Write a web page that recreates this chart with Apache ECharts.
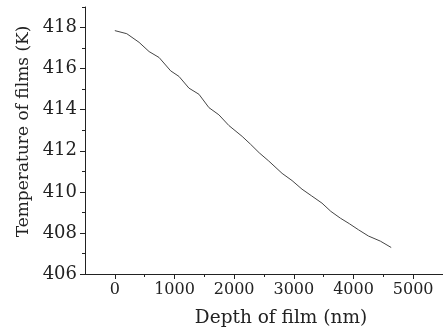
<!DOCTYPE html>
<html>
<head>
<meta charset="utf-8">
<script src="https://cdn.jsdelivr.net/npm/echarts@6/dist/echarts.min.js"></script>
<style>
  html, body { margin: 0; padding: 0; background: #fff; }
  #main { width: 443px; height: 333px; }
</style>
</head>
<body>
<div id="main"></div>
<script>
// depth (nm) and film temperature (K)
var depth = [0, 200, 406, 574, 742, 936, 1075, 1242, 1410, 1577, 1744, 1911, 2134, 2274,
  2420, 2580, 2803, 2970, 3137, 3300, 3472, 3620, 3779, 3930, 4085, 4250, 4450, 4632];
var temperature = [417.85, 417.7, 417.28, 416.83, 416.54, 415.89, 415.62, 415.05, 414.75, 414.1,
  413.75, 413.23, 412.7, 412.32, 411.9, 411.5, 410.9, 410.55, 410.13, 409.8, 409.45, 409.05,
  408.72, 408.45, 408.15, 407.85, 407.6, 407.29];

var xMajor = [0, 1000, 2000, 3000, 4000, 5000];
var xMinor = [500, 1500, 2500, 3500, 4500, 5500];
var yMajor = [406, 408, 410, 412, 414, 416, 418];
var yMinor = [407, 409, 411, 413, 415, 417, 419];

var font = 'DejaVu Serif';
var ink = '#222';

var chart = echarts.init(document.getElementById('main'));

var points = depth.map(function (d, i) { return [d, temperature[i]]; });

function plain(v) { return String(v); }

chart.setOption({
  animation: false,
  grid: { left: 85, right: 0, top: 7, bottom: 57 },
  xAxis: [
    {
      type: 'value', min: -500, max: 5500, position: 'bottom',
      name: 'Depth of film (nm)', nameLocation: 'middle', nameGap: 35,
      nameTextStyle: { fontFamily: font, fontSize: 18.5, color: ink, padding: [0, 0, 0, 34] },
      axisLine: { show: true, onZero: false, lineStyle: { color: ink, width: 1 } },
      axisTick: { show: true, length: 5, customValues: xMajor, lineStyle: { color: ink } },
      axisLabel: { customValues: xMajor, formatter: plain, margin: 8, fontFamily: font, fontSize: 16, color: ink },
      splitLine: { show: false }
    },
    {
      type: 'value', min: -500, max: 5500, position: 'bottom',
      axisLine: { show: false, onZero: false },
      axisTick: { show: true, length: 3, customValues: xMinor, lineStyle: { color: ink } },
      axisLabel: { show: false },
      splitLine: { show: false }
    }
  ],
  yAxis: [
    {
      type: 'value', min: 406, max: 419, position: 'left',
      name: 'Temperature of films (K)', nameLocation: 'middle', nameGap: 51,
      nameTextStyle: { fontFamily: font, fontSize: 17, color: ink, padding: [0, 0, 0, 18] },
      axisLine: { show: true, onZero: false, lineStyle: { color: ink, width: 1 } },
      axisTick: { show: true, length: 5, customValues: yMajor, lineStyle: { color: ink } },
      axisLabel: { customValues: yMajor, formatter: plain, margin: 8, fontFamily: font, fontSize: 18, color: ink },
      splitLine: { show: false }
    },
    {
      type: 'value', min: 406, max: 419, position: 'left',
      axisLine: { show: false, onZero: false },
      axisTick: { show: true, length: 3, customValues: yMinor, lineStyle: { color: ink } },
      axisLabel: { show: false },
      splitLine: { show: false }
    }
  ],
  series: [
    {
      type: 'line',
      data: points,
      showSymbol: false,
      lineStyle: { color: '#444', width: 1 }
    }
  ]
});
</script>
</body>
</html>
